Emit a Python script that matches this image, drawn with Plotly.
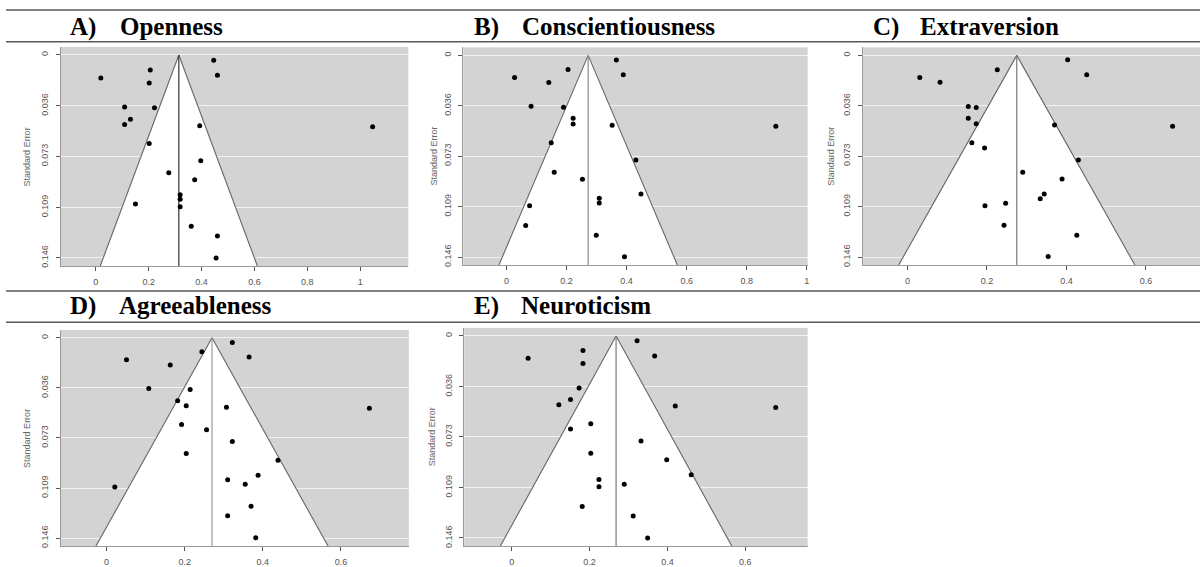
import plotly.graph_objects as go

W, H = 1202, 567

# ---------------- data ----------------
panel_letters = ["A)", "B)", "C)", "D)", "E)"]
panel_names = ["Openness", "Conscientiousness", "Extraversion", "Agreeableness", "Neuroticism"]

pooled = [0.314, 0.272, 0.275, 0.270, 0.268]
se_max = 0.1458
se_ticks = [0, 0.0365, 0.0729, 0.1094, 0.1458]
se_tick_labels = ["0", "0.036", "0.073", "0.109", "0.146"]

open_x = [0.446, 0.206, 0.019, 0.460, 0.202, 0.109, 0.222, 0.131, 0.109, 0.393, 1.047,
          0.202, 0.397, 0.276, 0.374, 0.319, 0.319, 0.319, 0.150, 0.361, 0.460, 0.455]
open_se = [0.0038, 0.0108, 0.0165, 0.0146, 0.0201, 0.0373, 0.0380, 0.0461, 0.0500, 0.0509, 0.0516,
           0.0636, 0.0760, 0.0846, 0.0896, 0.1004, 0.1037, 0.1090, 0.1070, 0.1230, 0.1300, 0.1458]

cons_x = [0.366, 0.205, 0.027, 0.389, 0.141, 0.082, 0.190, 0.222, 0.222, 0.352, 0.897,
          0.149, 0.431, 0.159, 0.253, 0.448, 0.309, 0.309, 0.077, 0.064, 0.299, 0.393]
cons_se = [0.0034, 0.0102, 0.0160, 0.0140, 0.0196, 0.0368, 0.0375, 0.0455, 0.0496, 0.0506, 0.0513,
           0.0632, 0.0756, 0.0845, 0.0896, 0.1003, 0.1034, 0.1068, 0.1087, 0.1230, 0.1300, 0.1456]

extr_x = [0.403, 0.226, 0.031, 0.451, 0.082, 0.153, 0.173, 0.153, 0.173, 0.370, 0.667,
          0.162, 0.194, 0.430, 0.290, 0.389, 0.344, 0.334, 0.247, 0.195, 0.243, 0.426, 0.354]
extr_se = [0.0031, 0.0104, 0.0159, 0.0140, 0.0195, 0.0369, 0.0376, 0.0455, 0.0494, 0.0504, 0.0513,
           0.0631, 0.0670, 0.0757, 0.0846, 0.0894, 0.1002, 0.1036, 0.1070, 0.1087, 0.1229, 0.1300, 0.1455]

agre_x = [0.322, 0.244, 0.051, 0.365, 0.163, 0.108, 0.214, 0.182, 0.204, 0.307, 0.673,
          0.192, 0.256, 0.322, 0.204, 0.439, 0.388, 0.310, 0.355, 0.021, 0.370, 0.310, 0.382]
agre_se = [0.0034, 0.0101, 0.0159, 0.0140, 0.0198, 0.0369, 0.0376, 0.0458, 0.0494, 0.0506, 0.0513,
           0.0631, 0.0670, 0.0754, 0.0843, 0.0892, 0.1000, 0.1034, 0.1067, 0.1087, 0.1227, 0.1296, 0.1455]

neur_x = [0.322, 0.183, 0.042, 0.367, 0.183, 0.173, 0.151, 0.121, 0.420, 0.678, 0.203,
          0.151, 0.332, 0.203, 0.398, 0.461, 0.224, 0.289, 0.224, 0.181, 0.312, 0.349]
neur_se = [0.0034, 0.0106, 0.0161, 0.0144, 0.0199, 0.0376, 0.0458, 0.0496, 0.0506, 0.0516, 0.0633,
           0.0671, 0.0758, 0.0847, 0.0894, 0.1002, 0.1036, 0.1070, 0.1089, 0.1230, 0.1300, 0.1458]

x_ticks_list = [
    [0, 0.2, 0.4, 0.6, 0.8, 1.0],
    [0, 0.2, 0.4, 0.6, 0.8, 1.0],
    [0, 0.2, 0.4, 0.6],
    [0, 0.2, 0.4, 0.6],
    [0, 0.2, 0.4, 0.6],
]
x_tick_labels_list = [
    ["0", "0.2", "0.4", "0.6", "0.8", "1"],
    ["0", "0.2", "0.4", "0.6", "0.8", "1"],
    ["0", "0.2", "0.4", "0.6"],
    ["0", "0.2", "0.4", "0.6"],
    ["0", "0.2", "0.4", "0.6"],
]

effects = [open_x, cons_x, extr_x, agre_x, neur_x]
ses = [open_se, cons_se, extr_se, agre_se, neur_se]

# ---------------- layout (pixels) ----------------
boxes = [
    dict(l=61, r=409, t=47, b=267, xr=[-0.132, 1.182], ytitle_x=27, letter_x=68, name_x=118, title_y=27,
         vcolor="#333333"),
    dict(l=464, r=809, t=47.5, b=266, xr=[-0.144, 1.003], ytitle_x=435, letter_x=473, name_x=521, title_y=27,
         vcolor="#8c8c8c"),
    dict(l=864, r=1202, t=47.5, b=266, xr=[-0.113, 0.736], ytitle_x=833, letter_x=872, name_x=920, title_y=27,
         vcolor="#777777"),
    dict(l=61, r=409.5, t=331, b=548, xr=[-0.117, 0.774], ytitle_x=27, letter_x=68, name_x=117, title_y=307,
         vcolor="#9a9a9a"),
    dict(l=465, r=809, t=329, b=548, xr=[-0.122, 0.760], ytitle_x=433, letter_x=473, name_x=520, title_y=307,
         vcolor="#7a7a7a"),
]

pad = se_max * 0.04
y_lo, y_hi = -pad, se_max + pad


def fx(p):
    return p / W


def fy(p):
    return 1 - p / H


fig = go.Figure()
annotations = []
shapes = []

for i in range(5):
    bx = boxes[i]
    ax = "" if i == 0 else str(i + 1)
    xref, yref = "x" + ax, "y" + ax
    c = pooled[i]
    half = 1.96 * y_hi
    fig.add_trace(go.Scatter(
        x=[c - half, c, c + half, c - half], y=[y_hi, 0, y_hi, y_hi],
        mode="lines", fill="toself", fillcolor="white", line=dict(width=0),
        xaxis=xref, yaxis=yref, hoverinfo="skip", showlegend=False))
    fig.add_trace(go.Scatter(
        x=[c - half, c, c + half], y=[y_hi, 0, y_hi],
        mode="lines", line=dict(color="#666666", width=1.1),
        xaxis=xref, yaxis=yref, hoverinfo="skip", showlegend=False))
    fig.add_trace(go.Scatter(
        x=[c, c], y=[0, y_hi], mode="lines", line=dict(color=bx["vcolor"], width=1.2),
        xaxis=xref, yaxis=yref, hoverinfo="skip", showlegend=False))
    fig.add_trace(go.Scatter(
        x=effects[i], y=ses[i], mode="markers",
        marker=dict(color="black", size=5, line=dict(width=0)),
        xaxis=xref, yaxis=yref, showlegend=False))

    xa = dict(domain=[fx(bx["l"]), fx(bx["r"])], range=bx["xr"], anchor=yref,
              tickvals=x_ticks_list[i], ticktext=x_tick_labels_list[i],
              ticks="outside", ticklen=4, tickcolor="#555555", tickwidth=1,
              tickfont=dict(family="Liberation Sans, Arial", size=9, color="#555555"),
              showline=True, linecolor="#9a9a9a", linewidth=1, mirror=False,
              showgrid=False, zeroline=False, ticklabelstandoff=3)
    ya = dict(domain=[fy(bx["b"]), fy(bx["t"])], range=[y_hi, y_lo], anchor=xref,
              tickvals=se_ticks, ticktext=se_tick_labels, tickangle=-90,
              ticks="outside", ticklen=4, tickcolor="#555555", tickwidth=1,
              tickfont=dict(family="Liberation Sans, Arial", size=9, color="#555555"),
              showline=True, linecolor="#9a9a9a", linewidth=1,
              showgrid=True, gridcolor="#f2f2f2", gridwidth=1, zeroline=False,
              ticklabelstandoff=4)
    fig.update_layout(**{"xaxis" + ax: xa, "yaxis" + ax: ya})

    annotations.append(dict(text="Standard Error", xref="paper", yref="paper",
                            x=fx(bx["ytitle_x"]), y=fy((bx["t"] + bx["b"]) / 2),
                            textangle=-90, showarrow=False, xanchor="center", yanchor="middle",
                            font=dict(family="Liberation Sans, Arial", size=9, color="#666666")))
    annotations.append(dict(text="<b>" + panel_letters[i] + "</b>", xref="paper", yref="paper",
                            x=fx(bx["letter_x"]), y=fy(bx["title_y"]), showarrow=False,
                            xanchor="left", yanchor="middle",
                            font=dict(family="Liberation Serif, Times New Roman", size=25, color="black")))
    annotations.append(dict(text="<b>" + panel_names[i] + "</b>", xref="paper", yref="paper",
                            x=fx(bx["name_x"]), y=fy(bx["title_y"]), showarrow=False,
                            xanchor="left", yanchor="middle",
                            font=dict(family="Liberation Serif, Times New Roman", size=25, color="black")))

for yp in [10, 42, 292, 323.3]:
    shapes.append(dict(type="line", xref="paper", yref="paper", x0=fx(6), x1=1.0,
                       y0=fy(yp), y1=fy(yp), line=dict(color="#5a5a5a", width=1.5)))

fig.update_layout(
    width=W, height=H, margin=dict(l=0, r=0, t=0, b=0),
    paper_bgcolor="white", plot_bgcolor="#d3d3d3",
    annotations=annotations, shapes=shapes, showlegend=False,
)

fig.write_html("out.html", config={"displayModeBar": False},
               post_script="document.body.style.margin='0';document.body.style.overflow='hidden';")
